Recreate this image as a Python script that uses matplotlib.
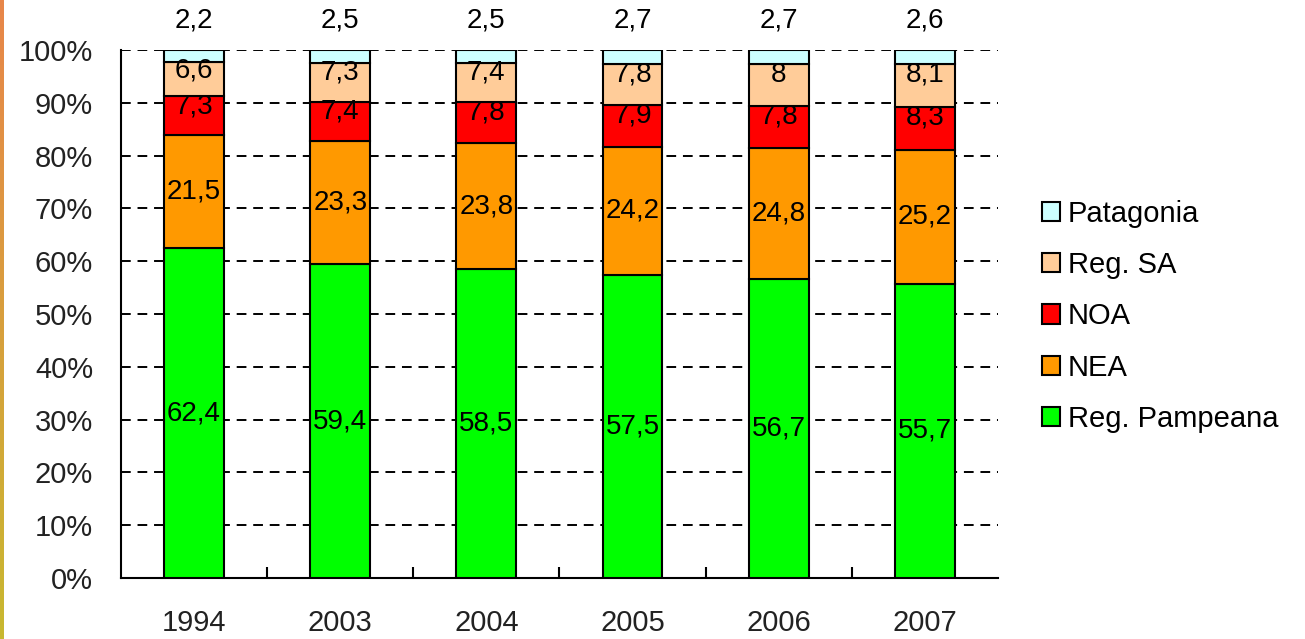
import numpy as np
import matplotlib
matplotlib.use('Agg')
import matplotlib.pyplot as plt
from matplotlib.patches import Patch
from matplotlib.colors import LinearSegmentedColormap

plt.rcParams['font.family'] = ['Liberation Sans', 'DejaVu Sans']

years = ['1994', '2003', '2004', '2005', '2006', '2007']
pampeana = [62.4, 59.4, 58.5, 57.5, 56.7, 55.7]
nea = [21.5, 23.3, 23.8, 24.2, 24.8, 25.2]
noa = [7.3, 7.4, 7.8, 7.9, 7.8, 8.3]
reg_sa = [6.6, 7.3, 7.4, 7.8, 8.0, 8.1]
patagonia = [2.2, 2.5, 2.5, 2.7, 2.7, 2.6]

series = [
    ('Reg. Pampeana', pampeana, '#00ff00'),
    ('NEA', nea, '#ff9900'),
    ('NOA', noa, '#ff0000'),
    ('Reg. SA', reg_sa, '#ffcc99'),
    ('Patagonia', patagonia, '#ccffff'),
]

def fmt(v):
    return ('%g' % v).replace('.', ',')

fig = plt.figure(figsize=(13.05, 6.39), dpi=100)
ax = fig.add_axes([0.0927, 0.0955, 0.672, 0.8263])

x = np.arange(len(years))
totals = np.sum([s[1] for s in series], axis=0)
bottom = np.zeros(len(years))
for name, vals, col in series:
    pct = np.array(vals) / totals * 100
    ax.bar(x, pct, 0.41, bottom=bottom, color=col, edgecolor='black',
           linewidth=1.5, zorder=3)
    for i, v in enumerate(vals):
        if name == 'Patagonia':
            # value above the bar
            ax.text(x[i], 100 + 3.2, fmt(v), ha='center', va='bottom', fontsize=20)
        else:
            yc = bottom[i] + pct[i] / 2
            if pct[i] < 10:
                yc = bottom[i] + pct[i] * 0.75
            ax.text(x[i], yc, fmt(v), ha='center', va='center', fontsize=20, zorder=4)
    bottom += pct

ax.set_xlim(-0.5, len(years) - 0.5)
ax.set_ylim(0, 100)
ax.set_yticks(range(0, 101, 10))
ax.set_yticklabels(['%d%%' % v for v in range(0, 101, 10)])
ax.set_xticks(x)
ax.set_xticklabels(years)
ax.set_xticks(np.arange(0.5, len(years) - 0.5, 1), minor=True)
ax.tick_params(axis='x', which='major', length=0, pad=22, labelsize=21, colors='#222222')
ax.tick_params(axis='x', which='minor', length=8, width=1.5, direction='in')
ax.tick_params(axis='y', length=0, pad=20, labelsize=21, colors='#222222')
ax.yaxis.grid(True, color='black', linestyle=(0, (5, 3.5)), linewidth=1.4, zorder=0)
ax.set_axisbelow(True)
for sp in ['top', 'right']:
    ax.spines[sp].set_visible(False)
for sp in ['left', 'bottom']:
    ax.spines[sp].set_linewidth(1.5)

handles = [Patch(facecolor=col, edgecolor='black', linewidth=1.5, label=name)
           for name, vals, col in reversed(series)]
fig.legend(handles=handles, loc='center left', bbox_to_anchor=(0.778, 0.505),
           frameon=False, fontsize=21, handlelength=0.65, handleheight=0.65,
           handletextpad=0.25, labelspacing=0.8)

# slide border on the left edge
bar_ax = fig.add_axes([0, 0, 0.0025, 1])
grad = np.linspace(0, 1, 256).reshape(-1, 1)
cm = LinearSegmentedColormap.from_list('edge', ['#e8864a', '#c8b830'])
bar_ax.imshow(grad, aspect='auto', cmap=cm)
bar_ax.axis('off')

fig.savefig('out.png', dpi=100)
